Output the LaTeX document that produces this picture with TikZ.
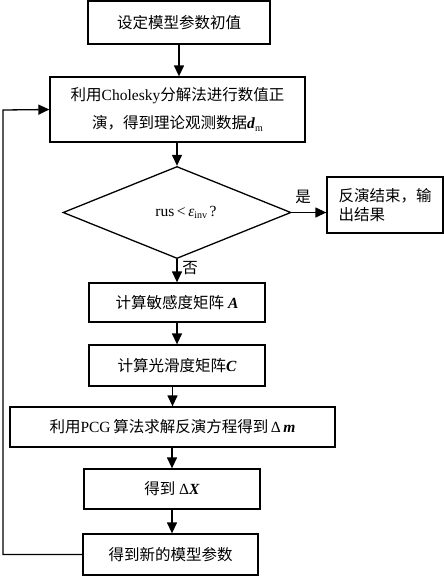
\documentclass[tikz,border=0pt]{standalone}
\usepackage{fontspec}
\setmainfont{Liberation Serif}
\newfontfamily\cjk{Noto Sans CJK SC}
\usetikzlibrary{shapes.geometric,arrows.meta}
\newcommand{\bi}[1]{\textbf{\textit{#1}}}
\newcommand{\subsm}[1]{\raisebox{-0.35ex}{\fontsize{10}{10}\selectfont #1}}
\begin{document}
\begin{tikzpicture}[x=1pt,y=-1pt,
  font=\fontsize{15.5}{18}\selectfont,
  box/.style={draw, line width=1.3pt, inner sep=0pt},
  arr/.style={line width=1.3pt, -{Triangle[length=11pt,width=10pt]}},
  lbl/.style={inner sep=0pt}]
\useasboundingbox (0,0) rectangle (444,576);
\node[box, minimum width=182pt, minimum height=43pt] (b1) at (179,22.5) {\cjk 设定模型参数初值};
\node[box, minimum width=255pt, minimum height=65pt, align=center, font=\fontsize{15.5}{28}\selectfont] (b2) at (177.5,109.5)
  {{\cjk 利用}Cholesky{\cjk 分解法进行数值正}\\{\cjk 演，得到理论观测数据}\bi{d}\subsm{m}};
\node[box, diamond, minimum width=228pt, minimum height=91pt] (dia) at (177,212.5)
  {\hspace*{18pt}rus\,<\,{\itshape ε}\subsm{inv}\,?};
\node[box, minimum width=116pt, minimum height=56pt, align=left, text width=93pt, font=\fontsize{15.5}{19}\selectfont] (res) at (385,205)
  {\cjk 反演结束，输\\出结果};
\node[box, minimum width=176pt, minimum height=39pt] (bA) at (177,302.5) {{\cjk 计算敏感度矩阵} \bi{A}};
\node[box, minimum width=176pt, minimum height=41pt] (bC) at (177,365.5) {{\cjk 计算光滑度矩阵}\bi{C}};
\node[box, minimum width=325pt, minimum height=40pt] (bP) at (172.5,427) {{\cjk 利用}PCG\,{\cjk 算法求解反演方程得到}\,Δ\,\bi{m}};
\node[box, minimum width=176pt, minimum height=40pt] (bX) at (172,489) {{\cjk 得到} Δ\bi{X}};
\node[box, minimum width=175pt, minimum height=41pt] (bN) at (170.5,554.5) {\cjk 得到新的模型参数};
\coordinate (lp) at (3,110);
\draw[arr] (b1.south) -- (b1.south |- b2.north);
\draw[arr] (b2.south -| dia.north) -- (dia.north);
\draw[arr] (dia.east) -- (dia.east -| res.west);
\node[lbl] (yes) at (303,197) {\cjk 是};
\draw[arr] (dia.south) -- (dia.south |- bA.north);
\node[lbl] (no) at (190,268) {\cjk 否};
\draw[arr] (bA.south) -- (bC.north);
\draw[arr] (bC.south -| bP.north) -- (bP.north);
\draw[arr] (bP.south -| bX.north) -- (bX.north);
\draw[arr] (bX.south) -- (bX.south |- bN.north);
\draw[arr] (bN.west) -| (lp) -- (b2.west);
\end{tikzpicture}
\end{document}
